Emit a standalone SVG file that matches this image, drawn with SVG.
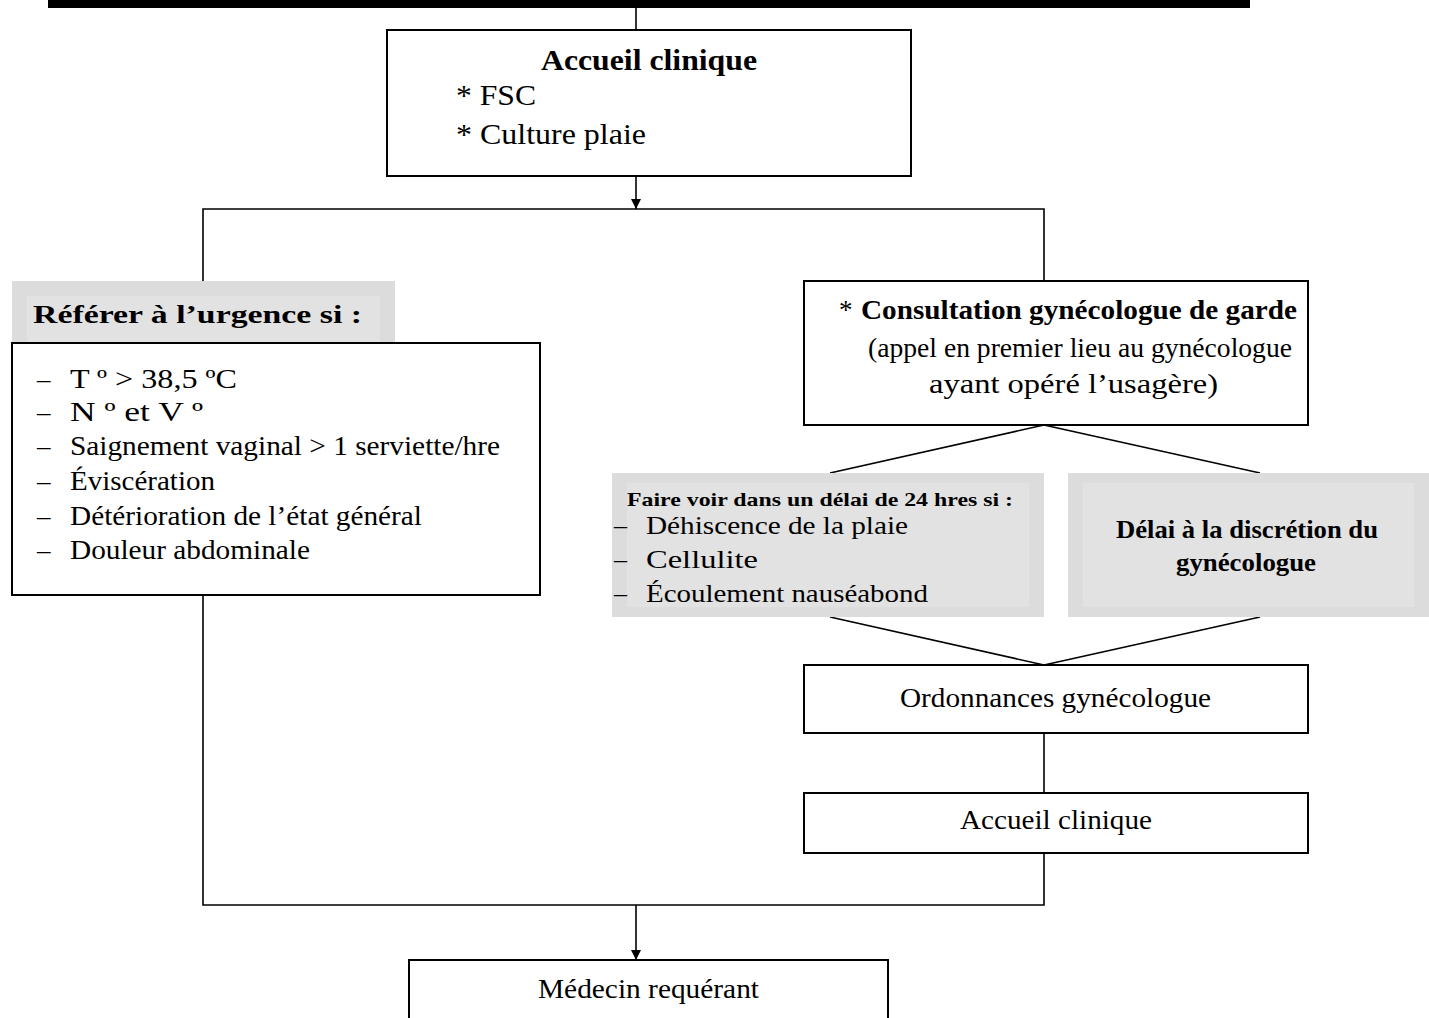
<svg xmlns="http://www.w3.org/2000/svg" width="1429" height="1018" viewBox="0 0 1429 1018">
<defs>
<style>
.box{fill:#fff;stroke:#000;stroke-width:2}
.gray{fill:#dcdcdc}
.grayin{fill:#e2e2e2}
.t{font-family:"Liberation Serif","Times New Roman",serif;fill:#000}
.c{stroke:#000;stroke-width:1.6;fill:none}
</style>
<marker id="arr" viewBox="0 0 10 10" refX="10" refY="5" markerWidth="10" markerHeight="10" markerUnits="userSpaceOnUse" orient="auto">
<path d="M0,0 L10,5 L0,10 z" fill="#000"/>
</marker>
</defs>
<rect x="48" y="0" width="1202" height="8" fill="#000"/>
<g id="connectors">
<line class="c" x1="636" y1="8" x2="636" y2="30"/>
<line class="c" x1="636" y1="176" x2="636" y2="209" marker-end="url(#arr)"/>
<polyline class="c" points="203,281 203,209 1044,209 1044,281"/>
<line class="c" x1="1044" y1="425" x2="830" y2="473"/>
<line class="c" x1="1044" y1="425" x2="1260" y2="473"/>
<line class="c" x1="830" y1="617" x2="1044" y2="665"/>
<line class="c" x1="1260" y1="617" x2="1044" y2="665"/>
<line class="c" x1="1044" y1="733" x2="1044" y2="793"/>
<polyline class="c" points="203,595 203,905 1044,905 1044,853"/>
<line class="c" x1="636" y1="905" x2="636" y2="960" marker-end="url(#arr)"/>
</g>
<g id="accueil1">
<rect class="box" x="387" y="30" width="524" height="146"/>
<text class="t" x="541" y="70" font-size="29" font-weight="bold" textLength="216" lengthAdjust="spacingAndGlyphs">Accueil clinique</text>
<text class="t" x="456" y="105" font-size="29" textLength="80" lengthAdjust="spacingAndGlyphs">* FSC</text>
<text class="t" x="456" y="144" font-size="29" textLength="190" lengthAdjust="spacingAndGlyphs">* Culture plaie</text>
</g>
<g id="referer">
<rect class="gray" x="12" y="281" width="383" height="64"/>
<rect class="grayin" x="27" y="296" width="353" height="49"/>
<text class="t" x="33" y="323" font-size="26" font-weight="bold" textLength="329" lengthAdjust="spacingAndGlyphs">Référer à l’urgence si :</text>
<rect class="box" x="12" y="343" width="528" height="252"/>
<g class="t" font-size="27">
<text x="37" y="388">–</text><text x="70" y="388" textLength="167" lengthAdjust="spacingAndGlyphs">T º &gt; 38,5 ºC</text>
<text x="37" y="421">–</text><text x="70" y="421" textLength="133" lengthAdjust="spacingAndGlyphs">N º et V º</text>
<text x="37" y="455">–</text><text x="70" y="455" textLength="430" lengthAdjust="spacingAndGlyphs">Saignement vaginal &gt; 1 serviette/hre</text>
<text x="37" y="490">–</text><text x="70" y="490" textLength="145" lengthAdjust="spacingAndGlyphs">Éviscération</text>
<text x="37" y="525">–</text><text x="70" y="525" textLength="352" lengthAdjust="spacingAndGlyphs">Détérioration de l’état général</text>
<text x="37" y="559">–</text><text x="70" y="559" textLength="240" lengthAdjust="spacingAndGlyphs">Douleur abdominale</text>
</g>
</g>
<g id="consultation">
<rect class="box" x="804" y="281" width="504" height="144"/>
<text class="t" x="839" y="319" font-size="27">*</text>
<text class="t" x="861" y="319" font-size="27" font-weight="bold" textLength="436" lengthAdjust="spacingAndGlyphs">Consultation gynécologue de garde</text>
<text class="t" x="868" y="357" font-size="27" textLength="424" lengthAdjust="spacingAndGlyphs">(appel en premier lieu au gynécologue</text>
<text class="t" x="929" y="393" font-size="27" textLength="289" lengthAdjust="spacingAndGlyphs">ayant opéré l’usagère)</text>
</g>
<g id="faire-voir">
<rect class="gray" x="612" y="473" width="432" height="144"/>
<rect class="grayin" x="627" y="483" width="402" height="124"/>
<text class="t" x="627" y="506" font-size="19" font-weight="bold" textLength="386" lengthAdjust="spacingAndGlyphs">Faire voir dans un délai de 24 hres si :</text>
<g class="t" font-size="26">
<text x="614" y="534">–</text><text x="646" y="534" textLength="262" lengthAdjust="spacingAndGlyphs">Déhiscence de la plaie</text>
<text x="614" y="568">–</text><text x="646" y="568" textLength="112" lengthAdjust="spacingAndGlyphs">Cellulite</text>
<text x="614" y="602">–</text><text x="646" y="602" textLength="282" lengthAdjust="spacingAndGlyphs">Écoulement nauséabond</text>
</g>
</g>
<g id="delai">
<rect class="gray" x="1068" y="473" width="361" height="144"/>
<rect class="grayin" x="1083" y="483" width="331" height="124"/>
<text class="t" x="1116" y="538" font-size="26" font-weight="bold" textLength="262" lengthAdjust="spacingAndGlyphs">Délai à la discrétion du</text>
<text class="t" x="1176" y="571" font-size="26" font-weight="bold" textLength="140" lengthAdjust="spacingAndGlyphs">gynécologue</text>
</g>
<g id="ordonnances">
<rect class="box" x="804" y="665" width="504" height="68"/>
<text class="t" x="900" y="707" font-size="27" textLength="311" lengthAdjust="spacingAndGlyphs">Ordonnances gynécologue</text>
</g>
<g id="accueil2">
<rect class="box" x="804" y="793" width="504" height="60"/>
<text class="t" x="960" y="829" font-size="27" textLength="192" lengthAdjust="spacingAndGlyphs">Accueil clinique</text>
</g>
<g id="medecin">
<rect class="box" x="409" y="960" width="479" height="70"/>
<text class="t" x="538" y="998" font-size="27" textLength="221" lengthAdjust="spacingAndGlyphs">Médecin requérant</text>
</g>
</svg>
